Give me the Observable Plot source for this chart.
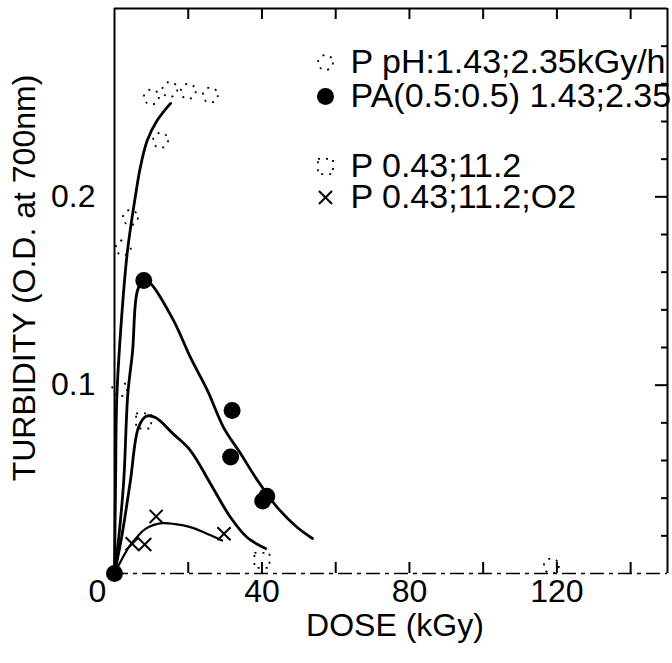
<!DOCTYPE html>
<html><head><meta charset="utf-8">
<script src="https://cdn.jsdelivr.net/npm/d3@7"></script>
<script src="https://cdn.jsdelivr.net/npm/@observablehq/plot@0.6"></script>
<style>html,body{margin:0;padding:0;background:#fff;overflow:hidden}</style>
</head><body><div id="chart"></div>
<script>
// ---- axes ----
const xDomain = [0, 150];
const yDomain = [0, 0.3];
const xTickLabels = [40, 80, 120];
const originLabel = ["0"];
const yTickLabels = [0.1, 0.2];
const xTicks = [20, 40, 60, 80, 100, 120, 140];
const yTicksMinor = [0.02, 0.04, 0.06, 0.08, 0.12, 0.14, 0.16, 0.18, 0.22, 0.24, 0.26, 0.28];
const yTicksMajor = [0.1, 0.2];
const xTitle = "DOSE (kGy)";
const yTitle = "TURBIDITY (O.D. at 700nm)";

// ---- legend ----
const seriesNames = ["P pH:1.43;2.35kGy/h", "PA(0.5:0.5) 1.43;2.35", "P 0.43;11.2", "P 0.43;11.2;O2"];

// ---- series A: P pH:1.43;2.35kGy/h (open circles) ----
const aDose = [1.4, 2.4, 4.3, 10, 12.5, 15, 20, 26, 118.5];
const aTurb = [0.098, 0.173, 0.189, 0.253, 0.23, 0.257, 0.256, 0.254, 0.004];
const aCurveDose = [0, 0.3, 0.6, 1.6, 3.5, 5.7, 7.0, 8.9, 11.6, 15.2];
const aCurveTurb = [0, 0.05, 0.092, 0.127, 0.171, 0.2007, 0.2156, 0.23, 0.2406, 0.2496];

// ---- series B: PA(0.5:0.5) 1.43;2.35 (filled circles) ----
const bDose = [0, 7.95, 31.9, 31.5, 40.2, 41.3];
const bTurb = [0, 0.1556, 0.0866, 0.0618, 0.0385, 0.041];
const bCurveDose = [0, 1.2, 2.5, 3.6, 4.9, 6.2, 7.9, 9.8, 16, 20.6, 25.2, 29.6, 34.2, 38.8, 44.2, 49.6, 53.7];
const bCurveTurb = [0, 0.02, 0.049, 0.095, 0.118, 0.15, 0.156, 0.154, 0.1344, 0.1147, 0.0972, 0.0775, 0.0637, 0.0494, 0.035, 0.0244, 0.0186];

// ---- series C: P 0.43;11.2 (open squares) ----
const cDose = [7.9, 40];
const cTurb = [0.081, 0.007];
const cCurveDose = [0, 2, 4.3, 6.5, 8.6, 11.1, 16, 20.6, 26, 31.5, 36, 41];
const cCurveTurb = [0, 0.02, 0.049, 0.0775, 0.0835, 0.0828, 0.074, 0.0653, 0.0478, 0.0297, 0.0191, 0.0133];

// ---- series D: P 0.43;11.2;O2 (crosses) ----
const dDose = [4.8, 8.2, 11.3, 29.7];
const dTurb = [0.0158, 0.0154, 0.0303, 0.0211];
const dCurveDose = [0, 3.9, 6.1, 8.4, 12.9, 16.5, 20.6, 24.2, 29.2];
const dCurveTurb = [0, 0.014, 0.0193, 0.0237, 0.0267, 0.0262, 0.0246, 0.0219, 0.0175];

const pts = (xs, ys) => xs.map((x, i) => ({dose: x, turb: ys[i]}));

const W = 672, H = 663, ML = 114, MR = 5, MT = 8, MB = 90;
const FW = W - ML - MR, FH = H - MT - MB;
const FONT = 32;

const openStyle = {fill: "none", stroke: "black", strokeWidth: 1.8, strokeDasharray: "2,6"};
const legendSym = [
  {symbol: "circle", r: 7.5, ...openStyle},
  {symbol: "circle", r: 8.5, fill: "black", stroke: "none"},
  {symbol: "square", r: 8.5, ...openStyle},
  {symbol: "times", r: 6, fill: "none", stroke: "black", strokeWidth: 2}
];
const legendDy = [54, 88, 158, 189];

const corner = {x: () => xDomain[0], y: () => yDomain[1]};

const marks = [
  // frame
  Plot.ruleX(xDomain, {x: d => d, stroke: "black", strokeWidth: 2}),
  Plot.ruleY([yDomain[1]], {y: d => d, stroke: "black", strokeWidth: 2}),
  Plot.ruleY([yDomain[0]], {y: d => d, stroke: "black", strokeWidth: 1.6, strokeDasharray: "14,5,4,5"}),
  // inward ticks
  Plot.tickX(xTicks, {x: d => d, insetBottom: FH - 11, stroke: "black", strokeWidth: 2}),
  Plot.tickX(xTicks, {x: d => d, insetTop: FH - 11, stroke: "black", strokeWidth: 2}),
  Plot.tickY(yTicksMinor, {y: d => d, insetLeft: FW - 6, stroke: "black", strokeWidth: 2}),
  Plot.tickY(yTicksMajor, {y: d => d, insetLeft: FW - 12, stroke: "black", strokeWidth: 2}),
  // tick labels
  Plot.text(xTickLabels, {x: d => d, y: () => yDomain[0], text: d => String(d), lineAnchor: "top", dy: 6, fontSize: FONT}),
  Plot.text(originLabel, {x: () => xDomain[0], y: () => yDomain[0], text: d => d, lineAnchor: "top", dy: 6, dx: -17, fontSize: FONT}),
  Plot.text(yTickLabels, {x: () => xDomain[0], y: d => d, text: d => String(d), textAnchor: "end", dx: -19, fontSize: FONT}),
  // axis titles
  Plot.text([xTitle], {frameAnchor: "bottom", text: d => d, dy: 62, dx: 4, fontSize: FONT}),
  Plot.text([yTitle], {frameAnchor: "left", text: d => d, textAnchor: "middle", rotate: -90, dx: -90, dy: -13, fontSize: FONT}),
  // curves
  Plot.line(pts(aCurveDose, aCurveTurb), {x: "dose", y: "turb", curve: "catmull-rom", stroke: "black", strokeWidth: 2.8}),
  Plot.line(pts(bCurveDose, bCurveTurb), {x: "dose", y: "turb", curve: "catmull-rom", stroke: "black", strokeWidth: 2.8}),
  Plot.line(pts(cCurveDose, cCurveTurb), {x: "dose", y: "turb", curve: "catmull-rom", stroke: "black", strokeWidth: 2.8}),
  Plot.line(pts(dCurveDose, dCurveTurb), {x: "dose", y: "turb", curve: "catmull-rom", stroke: "black", strokeWidth: 2.2}),
  // markers
  Plot.dot(pts(aDose, aTurb), {x: "dose", y: "turb", ...legendSym[0]}),
  Plot.dot(pts(cDose, cTurb), {x: "dose", y: "turb", ...legendSym[2]}),
  Plot.dot(pts(dDose, dTurb), {x: "dose", y: "turb", ...legendSym[3]}),
  Plot.dot(pts(bDose, bTurb), {x: "dose", y: "turb", ...legendSym[1]}),
];

// legend
seriesNames.forEach((name, i) => {
  marks.push(Plot.dot([name], {...corner, ...legendSym[i], dx: 211, dy: legendDy[i]}));
  marks.push(Plot.text([name], {...corner, text: d => d, textAnchor: "start", lineAnchor: "middle", dx: 236, dy: legendDy[i], fontSize: 34}));
});

const chart = Plot.plot({
  width: W, height: H,
  marginLeft: ML, marginRight: MR, marginTop: MT, marginBottom: MB,
  x: {domain: xDomain, axis: null},
  y: {domain: yDomain, axis: null},
  style: {fontFamily: "'Liberation Sans', Arial, Helvetica, sans-serif", background: "white", color: "black", overflow: "hidden"},
  marks
});
document.getElementById("chart").appendChild(chart);
</script></body></html>
